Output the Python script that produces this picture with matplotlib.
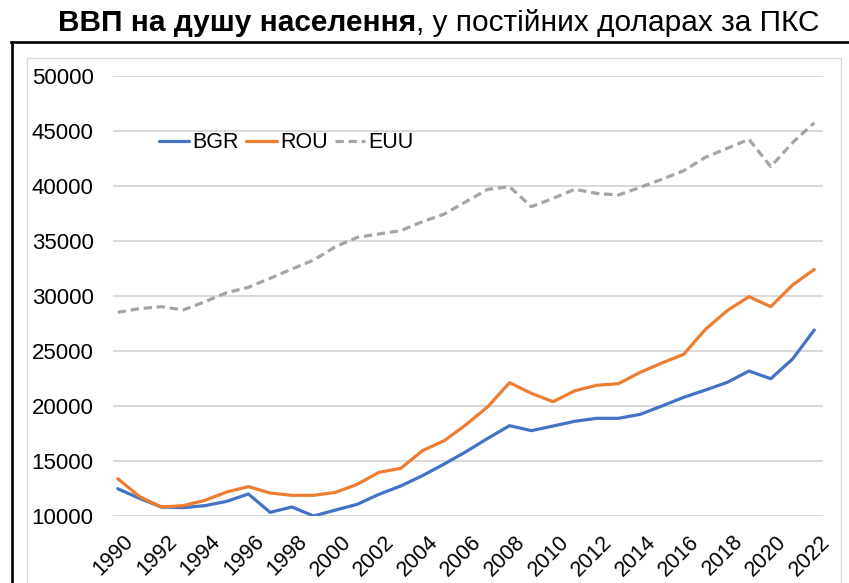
import matplotlib
matplotlib.use("Agg")
import matplotlib.pyplot as plt
from matplotlib.lines import Line2D
import matplotlib.transforms as mtransforms

years = list(range(1990, 2023))
bgr = [12480, 11600, 10820, 10760, 10940, 11330, 12000, 10330, 10820, 10000,
       10540, 11060, 11970, 12730, 13670, 14730, 15850, 17060, 18210, 17760,
       18180, 18610, 18880, 18880, 19240, 20000, 20790, 21450, 22150, 23180,
       22480, 24270, 26910]
rou = [13390, 11760, 10820, 10940, 11420, 12180, 12670, 12090, 11880, 11880,
       12150, 12880, 13970, 14330, 15940, 16850, 18300, 19940, 22120, 21150,
       20390, 21390, 21880, 22030, 23060, 23910, 24700, 26970, 28670, 29940,
       29030, 31000, 32420]
euu = [28520, 28850, 29030, 28730, 29480, 30300, 30790, 31610, 32450, 33270,
       34480, 35330, 35640, 35940, 36760, 37450, 38580, 39700, 39940, 38120,
       38880, 39700, 39330, 39180, 39880, 40610, 41390, 42610, 43430, 44240,
       41760, 43940, 45750]
series_names = ["BGR", "ROU", "EUU"]
yticks = [10000, 15000, 20000, 25000, 30000, 35000, 40000, 45000, 50000]
xticks = list(range(1990, 2023, 2))
title_bold = "ВВП на душу населення"
title_rest = ", у постійних доларах за ПКС"

W, H = 849, 583
fig = plt.figure(figsize=(W / 100, H / 100), dpi=100)
font = "Liberation Sans"

ax = fig.add_axes([113 / W, 1 - 516 / H, (823 - 113) / W, (516 - 76) / H])
ax.set_xlim(1989.78, 2022.4)
ax.set_ylim(10000, 50000)
for s in ax.spines.values():
    s.set_visible(False)
ax.set_yticks(yticks)
ax.yaxis.grid(True, color="#d9d9d9", lw=1.4)
ax.set_axisbelow(True)
ax.tick_params(axis="both", length=0)
ax.tick_params(axis="y", pad=14)
ax.set_yticklabels([str(v) for v in yticks], fontsize=16, family=font, color="#000000")
ax.set_xticks(xticks)
ax.set_xticklabels([str(v) for v in xticks], fontsize=15.5, family=font,
                   rotation=45, ha="right", va="top", rotation_mode="anchor")
ax.tick_params(axis="x", pad=11)
offset = mtransforms.ScaledTranslation(5 / 100, 0, fig.dpi_scale_trans)
for lab in ax.get_xticklabels():
    lab.set_transform(lab.get_transform() + offset)

lw = 2.3
ax.plot(years, bgr, color="#4472C4", lw=lw, label=series_names[0], solid_capstyle="round")
ax.plot(years, rou, color="#ED7D31", lw=lw, label=series_names[1], solid_capstyle="round")
ax.plot(years, euu, color="#A5A5A5", lw=lw, label=series_names[2],
        linestyle=(0, (2.6, 1.5)))

leg = fig.legend(loc="center left", bbox_to_anchor=(159 / W, 1 - 143 / H), ncol=3,
                 frameon=False, prop={"family": font, "size": 15.5},
                 handlelength=1.4, handletextpad=0.15, columnspacing=0.35,
                 borderpad=0, borderaxespad=0)

# frame lines
fig.add_artist(Line2D([11.7 / W, 11.7 / W], [0, 1 - 42 / H], color="black", lw=1.9,
                      transform=fig.transFigure))
fig.add_artist(Line2D([10.8 / W, 1], [1 - 42 / H, 1 - 42 / H], color="black", lw=1.9,
                      transform=fig.transFigure))
fig.add_artist(Line2D([27 / W, 27 / W, 841 / W, 841 / W], [0, 1 - 58 / H, 1 - 58 / H, 0],
                      color="#d9d9d9", lw=0.9, transform=fig.transFigure))

# title in two parts
fig.canvas.draw()
r = fig.canvas.get_renderer()
ty = 1 - 31 / H
t1 = fig.text(0, ty, title_bold, fontsize=21.5, fontweight="bold", family=font,
              ha="left", va="baseline")
t2 = fig.text(0, ty, title_rest, fontsize=21.5, family=font, ha="left", va="baseline")
w1 = t1.get_window_extent(r).width
w2 = t2.get_window_extent(r).width
x0 = 438.5 - (w1 + w2) / 2
t1.set_x(x0 / W)
t2.set_x((x0 + w1) / W)

fig.savefig("out.png", dpi=100)
